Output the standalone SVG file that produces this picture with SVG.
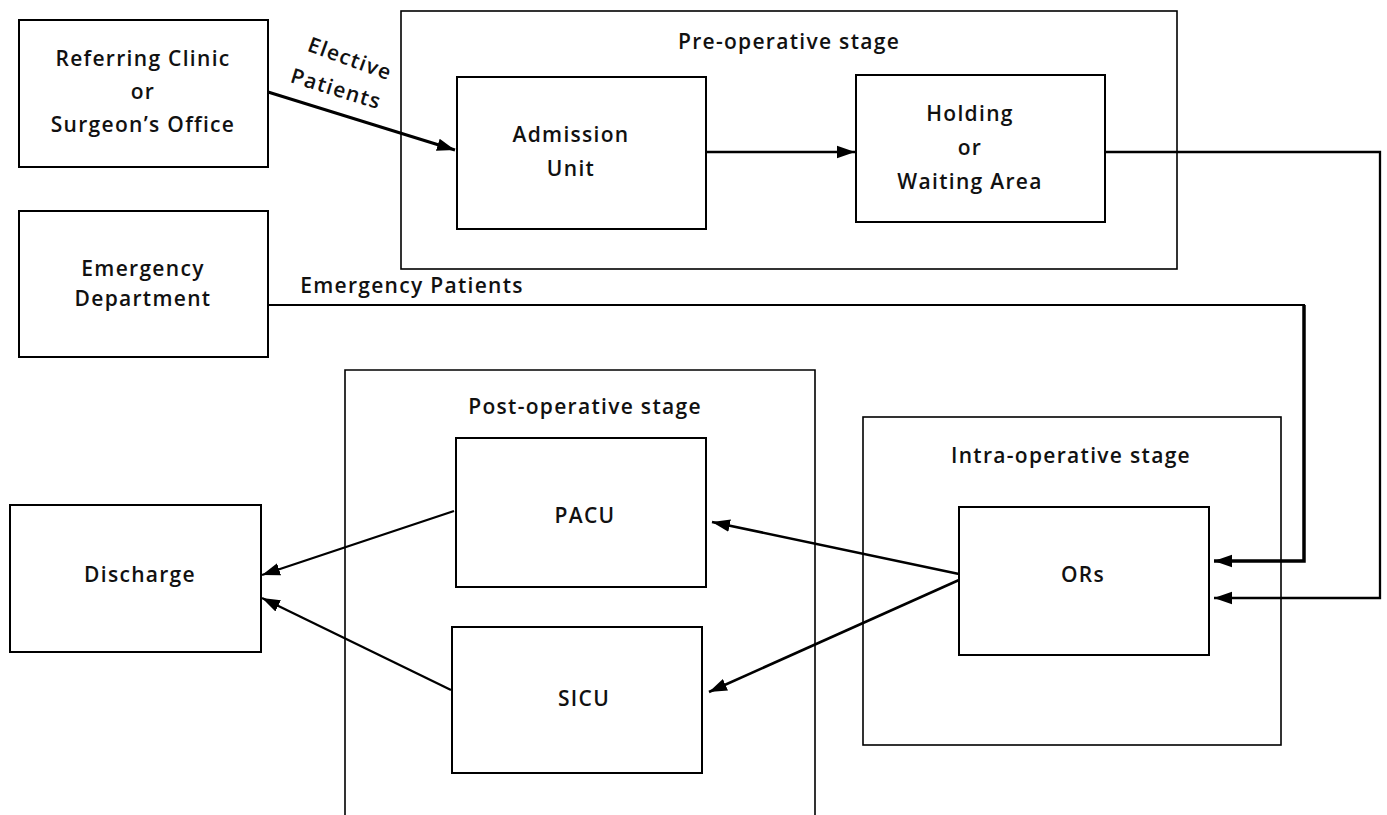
<svg xmlns="http://www.w3.org/2000/svg" width="1387" height="815" viewBox="0 0 1387 815">
<defs>
<style>
.box{fill:#fff;stroke:#000;stroke-width:2}
.stage{fill:none;stroke:#000;stroke-width:1.6}
.t{font-family:"Open Sans","Liberation Sans",sans-serif;font-size:21px;font-weight:600;letter-spacing:1.3px;fill:#111;text-anchor:middle}
.c{fill:none;stroke:#000;stroke-width:2.3}
</style>
<marker id="a" viewBox="0 0 10 10" refX="10" refY="5" markerWidth="18" markerHeight="18" markerUnits="userSpaceOnUse" orient="auto">
<path d="M0,1.5 L10,5 L0,8.5 z" fill="#000"/>
</marker>
</defs>
<rect width="1387" height="815" fill="#fff"/>
<g id="pre-op">
<rect class="stage" x="401" y="11" width="776" height="258"/>
<text class="t" x="789" y="49">Pre-operative stage</text>
</g>
<g id="post-op">
<path class="stage" d="M345,820 V370 H815 V820"/>
<text class="t" x="585" y="414">Post-operative stage</text>
</g>
<g id="intra-op">
<rect class="stage" x="863" y="417" width="418" height="328"/>
<text class="t" x="1071" y="463">Intra-operative stage</text>
</g>
<g id="referring">
<rect class="box" x="19" y="20" width="249" height="147"/>
<text class="t" x="143" y="66">Referring Clinic</text>
<text class="t" x="143" y="99">or</text>
<text class="t" x="143" y="132">Surgeon’s Office</text>
</g>
<g id="emergency">
<rect class="box" x="19" y="211" width="249" height="146"/>
<text class="t" x="143" y="276">Emergency</text>
<text class="t" x="143" y="306">Department</text>
</g>
<g id="admission">
<rect class="box" x="457" y="77" width="249" height="152"/>
<text class="t" x="571" y="142">Admission</text>
<text class="t" x="571" y="176">Unit</text>
</g>
<g id="holding">
<rect class="box" x="856" y="75" width="249" height="147"/>
<text class="t" x="970" y="121">Holding</text>
<text class="t" x="970" y="155">or</text>
<text class="t" x="970" y="189">Waiting Area</text>
</g>
<g id="pacu">
<rect class="box" x="456" y="438" width="250" height="149"/>
<text class="t" x="585" y="523">PACU</text>
</g>
<g id="sicu">
<rect class="box" x="452" y="627" width="250" height="146"/>
<text class="t" x="584" y="706">SICU</text>
</g>
<g id="ors">
<rect class="box" x="959" y="507" width="250" height="148"/>
<text class="t" x="1083" y="582">ORs</text>
</g>
<g id="discharge">
<rect class="box" x="10" y="505" width="251" height="147"/>
<text class="t" x="140" y="582">Discharge</text>
</g>
<g id="connectors">
<line class="c" x1="268" y1="92" x2="455" y2="150" style="stroke-width:3" marker-end="url(#a)"/>
<line class="c" x1="706" y1="152" x2="855" y2="152" style="stroke-width:2.6" marker-end="url(#a)"/>
<polyline class="c" points="1105,152 1380,152 1380,598 1214,598" marker-end="url(#a)"/>
<polyline class="c" points="268,305 1304,305 1304,307" style="stroke-width:2"/>
<polyline class="c" points="1304,305 1304,561 1214,561" style="stroke-width:3.5" marker-end="url(#a)"/>
<line class="c" x1="959" y1="574" x2="712" y2="522" style="stroke-width:2.6" marker-end="url(#a)"/>
<line class="c" x1="959" y1="580" x2="709" y2="692" style="stroke-width:2.6" marker-end="url(#a)"/>
<line class="c" x1="454" y1="511" x2="262" y2="575" marker-end="url(#a)"/>
<line class="c" x1="451" y1="690" x2="262" y2="598" marker-end="url(#a)"/>
<text class="t" x="412" y="293">Emergency Patients</text>
<text class="t" transform="translate(350 59) rotate(20)" x="0" y="7">Elective</text>
<text class="t" transform="translate(336 89) rotate(17)" x="0" y="7">Patients</text>
</g>
</svg>
